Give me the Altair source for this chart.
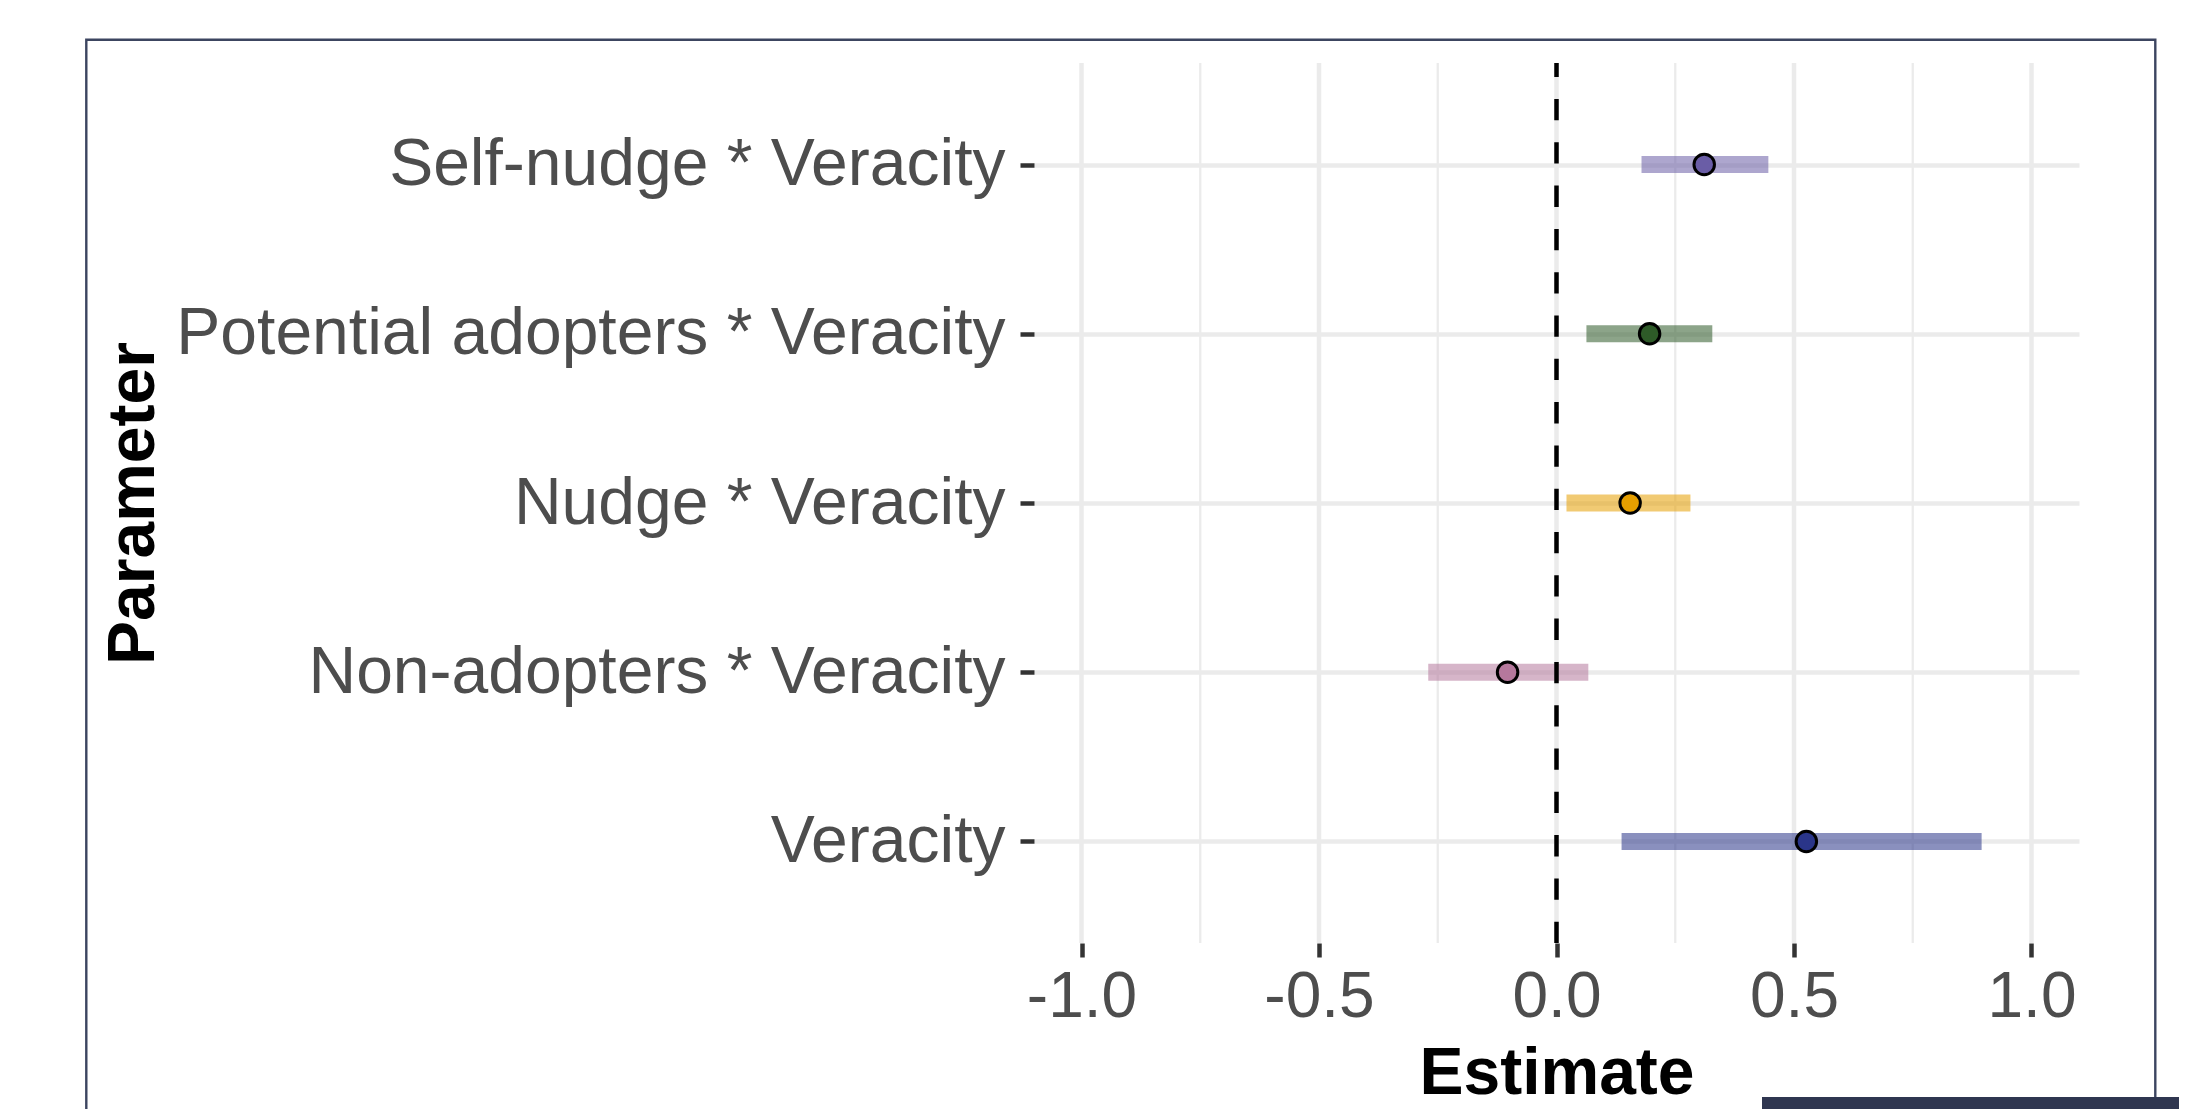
import altair as alt
import pandas as pd

# ---- data ----
parameters = [
    "Self-nudge * Veracity",
    "Potential adopters * Veracity",
    "Nudge * Veracity",
    "Non-adopters * Veracity",
    "Veracity",
]
estimates = [0.311, 0.196, 0.155, -0.103, 0.526]
ci_low = [0.179, 0.063, 0.021, -0.270, 0.137]
ci_high = [0.446, 0.328, 0.282, 0.067, 0.895]
colors = ["#6a5da6", "#2e5a28", "#e69f00", "#b5789c", "#2a3589"]

x_ticks = [-1.0, -0.5, 0.0, 0.5, 1.0]
x_minor = [-0.75, -0.25, 0.25, 0.75]
ref_line = [0.0]

df = pd.DataFrame({"Parameter": parameters, "Estimate": estimates,
                   "low": ci_low, "high": ci_high})

W, H = 1045, 880
FONT = "Liberation Sans"

y_enc = alt.Y("Parameter:N", sort=parameters,
              scale=alt.Scale(type="point", padding=0.6),
              axis=alt.Axis(title="Parameter", labelFontSize=66, labelColor="#4d4d4d",
                            labelFont=FONT, labelPadding=15, labelLimit=0,
                            tickSize=14, tickWidth=4.5,
                            tickColor="#333333", domain=False, grid=True,
                            gridColor="#ebebeb", gridWidth=4.5,
                            titleFont=FONT, titleFontSize=66, titleFontWeight="bold",
                            titleColor="#000000", titleAngle=270, titleAlign="center",
                            titleBaseline="alphabetic", titleX=-881, titleY=440))
x_scale = alt.Scale(domain=[-1.1, 1.1], nice=False, zero=False)
x_axis = alt.Axis(title="Estimate", values=x_ticks, format=".1f",
                  labelExpr="replace(datum.label, '\u2212', '-')",
                  labelFontSize=64,
                  labelColor="#4d4d4d", labelFont=FONT, labelPadding=8, tickSize=14,
                  tickWidth=4.5, tickColor="#333333", domain=False, grid=False,
                  titleFont=FONT, titleFontSize=66, titleFontWeight="bold",
                  titleColor="#000000", titleBaseline="alphabetic", titleY=150)
color_enc = alt.Color("Parameter:N", scale=alt.Scale(domain=parameters, range=colors),
                      legend=None)

major_grid = alt.Chart(pd.DataFrame({"v": x_ticks})).mark_rule(
    color="#ebebeb", strokeWidth=4.5).encode(x=alt.X("v:Q", scale=x_scale, axis=x_axis))
minor_grid = alt.Chart(pd.DataFrame({"v": x_minor})).mark_rule(
    color="#ebebeb", strokeWidth=2.3).encode(x=alt.X("v:Q", scale=x_scale))

bars = alt.Chart(df).mark_rule(strokeWidth=17, opacity=0.55, strokeCap="butt").encode(
    x=alt.X("low:Q", scale=x_scale), x2="high:Q", y=y_enc, color=color_enc)

vline = alt.Chart(pd.DataFrame({"v": ref_line})).mark_rule(
    color="#000000", strokeWidth=4.5, strokeDash=[21.3, 22]).encode(
    x=alt.X("v:Q", scale=x_scale), y=alt.value(H), y2=alt.value(0))

points = alt.Chart(df).mark_point(shape="circle", filled=True, size=420, opacity=1,
                                  stroke="#000000", strokeWidth=3).encode(
    x=alt.X("Estimate:Q", scale=x_scale), y=alt.Y("Parameter:N", sort=parameters),
    fill=alt.Fill("Parameter:N", scale=alt.Scale(domain=parameters, range=colors),
                  legend=None))

frame = alt.Chart(alt.Data(values=[{}])).mark_rect(
    fillOpacity=0, stroke="#3c4560", strokeWidth=2.4).encode(
    x=alt.value(-947.7), x2=alt.value(1121.3), y=alt.value(-23.2), y2=alt.value(1300))
corner = alt.Chart(alt.Data(values=[{}])).mark_rect(color="#2f3650").encode(
    x=alt.value(728), x2=alt.value(1160), y=alt.value(1034), y2=alt.value(1100))

chart = alt.layer(major_grid, minor_grid, bars, vline, points, frame, corner).properties(
    width=W, height=H,
    autosize=alt.AutoSizeParams(type="none"),
    padding={"left": 1026, "top": 55, "right": 100, "bottom": 166},
).configure(background="#ffffff").configure_view(strokeWidth=0, stroke=None)

chart.save("out.html", embed_options={"renderer": "svg", "actions": False})
